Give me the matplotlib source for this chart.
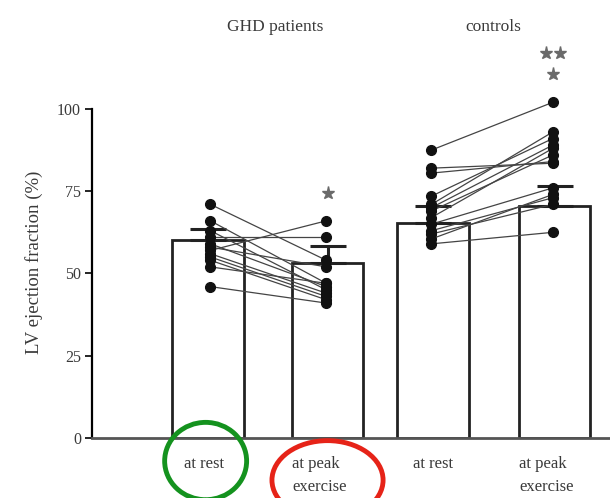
import matplotlib
matplotlib.use("Agg")
import matplotlib.pyplot as plt
from matplotlib.patches import Ellipse
import matplotlib.transforms as mtransforms

# ---- data ----
categories = ["at rest", "at peak\nexercise", "at rest", "at peak\nexercise"]
groups = ["GHD patients", "controls"]
bar_means = [60.2, 53.3, 65.4, 70.6]
bar_sem = [3.3, 5.1, 5.1, 6.1]

ghd_rest = [71, 66, 63, 61, 59, 58, 57, 56, 55, 54, 52, 46]
ghd_peak = [54, 47, 45, 61, 46, 52, 66, 44, 43, 42, 47, 41]

ctrl_rest = [87.5, 82.0, 80.5, 73.5, 71, 70, 69, 67, 65, 63, 62, 60.5, 59]
ctrl_peak = [102, 83.5, 84, 91, 93, 89, 86, 88, 76, 73, 71, 74, 62.5]

star_values = [74.5, 110.6, 117.0]
yticks = [0, 25, 50, 75, 100]

# ---- layout ----
positions = [0.0, 1.0, 1.88, 2.9]
bar_width = 0.6

plt.rcParams["font.family"] = ["Liberation Serif", "DejaVu Serif"]
fig = plt.figure(figsize=(6.10, 4.98), dpi=100)
ax = fig.add_axes([92 / 610, 1 - 438 / 498, 1 - 92 / 610, 438 / 498])
ax.set_xlim(-0.971, 3.364)
ax.set_ylim(0, 133.1)

ax.bar(positions, bar_means, width=bar_width, color="white",
       edgecolor="#222222", linewidth=2.0, zorder=2)
ax.errorbar(positions, bar_means, yerr=[[0] * 4, bar_sem], fmt="none",
            ecolor="#222222", elinewidth=2.2, capsize=13, capthick=2.2, zorder=3)

def paired(x0, x1, a, b):
    for va, vb in zip(a, b):
        ax.plot([x0, x1], [va, vb], color="#444444", lw=0.9, zorder=4)
    ax.plot([x0] * len(a), a, "o", color="#111111", ms=7, zorder=5)
    ax.plot([x1] * len(b), b, "o", color="#111111", ms=7, zorder=5)

paired(positions[0] + 0.02, positions[1] - 0.01, ghd_rest, ghd_peak)
paired(positions[2] - 0.01, positions[3] - 0.015, ctrl_rest, ctrl_peak)

# significance stars
star_kw = dict(marker="*", color="#6a6a6a", ms=9.5, ls="none", zorder=5, clip_on=False)
ax.plot([positions[1]], [star_values[0]], **star_kw)
ax.plot([positions[3] - 0.015], [star_values[1]], **star_kw)
ax.plot([positions[3] - 0.075, positions[3] + 0.045], [star_values[2]] * 2, **star_kw)

# group titles
txt_color = "#3a3a3a"
ax.text((positions[0] + positions[1]) / 2 + 0.06, 125, groups[0], ha="center",
        va="center", fontsize=12.5, color=txt_color)
ax.text((positions[2] + positions[3]) / 2 - 0.0, 125, groups[1], ha="center",
        va="center", fontsize=12.5, color=txt_color)

# axes styling
ax.spines["top"].set_visible(False)
ax.spines["right"].set_visible(False)
ax.spines["left"].set_bounds(0, 100)
ax.spines["left"].set_linewidth(1.6)
ax.spines["bottom"].set_linewidth(2.0)
ax.spines["bottom"].set_color("#555555")
ax.set_yticks(yticks)
ax.set_yticklabels([str(t) for t in yticks], fontsize=11.5, color=txt_color)
ax.tick_params(axis="y", direction="out", length=5, width=1.2, pad=3)
ax.set_xticks(positions)
ax.set_xticklabels(categories, fontsize=12, color=txt_color, linespacing=1.55)
ax.tick_params(axis="x", length=0, pad=13)
shifts = [-4, -8, 0, -8]
for lbl, s in zip(ax.get_xticklabels(), shifts):
    lbl.set_horizontalalignment("center")
    lbl.set_multialignment("left")
    lbl.set_transform(lbl.get_transform() +
                      mtransforms.ScaledTranslation(s / 100, 0, fig.dpi_scale_trans))
ax.set_ylabel("LV ejection fraction (%)", fontsize=13.5, color=txt_color)
ax.yaxis.set_label_coords(-0.095, 0.40)

# highlight ellipses
ax.add_patch(Ellipse((-0.02, -7.0), 0.686, 23.5, fill=False, edgecolor="#14921e",
                     lw=3.5, clip_on=False, zorder=6))
ax.add_patch(Ellipse((1.0, -12.8), 0.93, 24.0, fill=False, edgecolor="#e62318",
                     lw=3.5, clip_on=False, zorder=6))

fig.savefig("out.png", dpi=100)
